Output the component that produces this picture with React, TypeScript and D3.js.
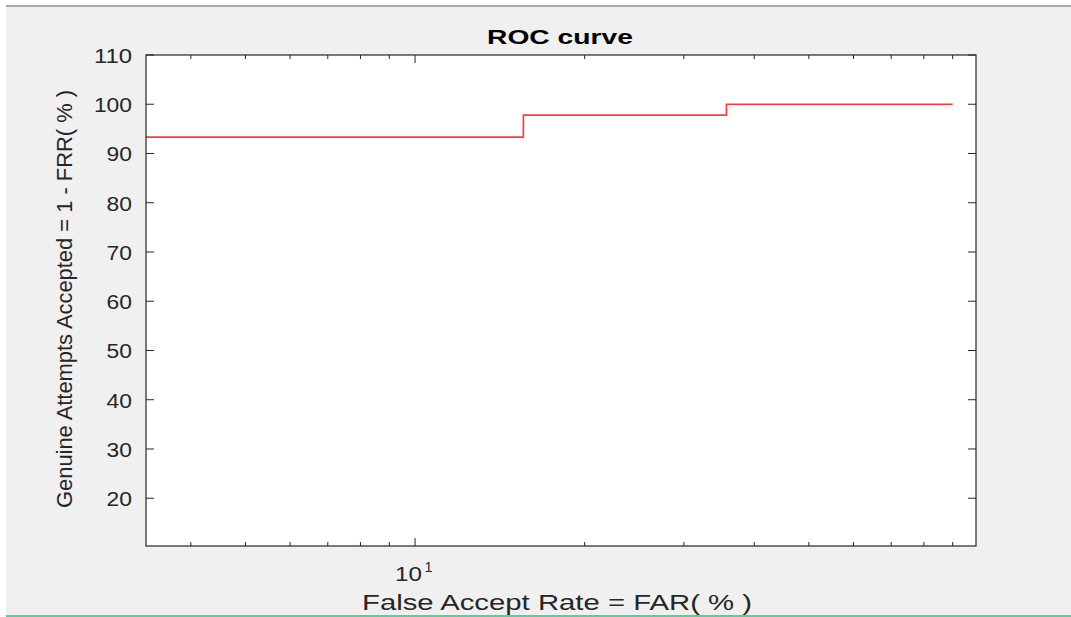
import React from "react";
import * as d3 from "d3";

const FAR = [3.33, 15.57, 35.7, 90];
const GAR = [93.33, 97.78, 100, 100];
const yTickValues = [20, 30, 40, 50, 60, 70, 80, 90, 100, 110];
const xMajorTicks = [10];
const xMinorTicks = [4, 5, 6, 7, 8, 9, 20, 30, 40, 50, 60, 70, 80, 90];
const titleText = "ROC curve";
const xLabelText = "False Accept Rate = FAR( % )";
const yLabelText = "Genuine Attempts Accepted = 1 - FRR( % )";

const W = 1071;
const H = 617;
const left = 146;
const right = 976;
const top = 55;
const bottom = 546;

export default function App() {
  const x = d3.scaleLog().domain([3.33, 99]).range([left, right]);
  const y = d3.scaleLinear().domain([10.3, 110]).range([bottom, top]);
  const pts: [number, number][] = FAR.map((f, i) => [f, GAR[i]]);
  const line = d3
    .line<[number, number]>()
    .x((d) => x(d[0]))
    .y((d) => y(d[1]))
    .curve(d3.curveStepAfter);
  const textColor = "#262626";
  const font = "'Liberation Sans', Arial, sans-serif";
  const majorLen = 8;
  const minorLen = 4;

  return (
    <svg
      width={W}
      height={H}
      style={{ position: "absolute", left: 0, top: 0, background: "#ffffff" }}
      fontFamily={font}
    >
      <rect x={6} y={5} width={W - 6} height={H - 5} fill="#f0f0f0" />
      <line x1={6} x2={W} y1={6} y2={6} stroke="#a9a9a9" strokeWidth={2} />
      <line x1={6} x2={W} y1={616} y2={616} stroke="#45d89c" strokeWidth={2} />

      <rect x={left} y={top} width={right - left} height={bottom - top} fill="#ffffff" />

      <path d={line(pts) || ""} fill="none" stroke="#ff3a3a" strokeWidth={1.7} />

      {yTickValues.map((v) => (
        <g key={"y" + v}>
          <line x1={left} x2={left + majorLen} y1={y(v)} y2={y(v)} stroke={textColor} strokeWidth={1} />
          <line x1={right} x2={right - majorLen} y1={y(v)} y2={y(v)} stroke={textColor} strokeWidth={1} />
          <text
            x={132}
            y={y(v) + 8}
            textAnchor="end"
            fontSize={19.5}
            fill={textColor}
            textLength={String(v).length * 12.7}
            lengthAdjust="spacingAndGlyphs"
          >
            {v}
          </text>
        </g>
      ))}

      {xMajorTicks.map((v) => (
        <g key={"xm" + v}>
          <line x1={x(v)} x2={x(v)} y1={bottom} y2={bottom - majorLen} stroke={textColor} strokeWidth={1} />
          <line x1={x(v)} x2={x(v)} y1={top} y2={top + majorLen} stroke={textColor} strokeWidth={1} />
          <text
            x={x(v) - 20}
            y={580.5}
            fontSize={19.5}
            fill={textColor}
            textLength={27}
            lengthAdjust="spacingAndGlyphs"
          >
            {String(v)}
          </text>
          <text x={x(v) + 9.5} y={572} fontSize={14.5} fill={textColor}>
            {String(Math.round(Math.log10(v)))}
          </text>
        </g>
      ))}

      {xMinorTicks.map((v) => (
        <g key={"xn" + v}>
          <line x1={x(v)} x2={x(v)} y1={bottom} y2={bottom - minorLen} stroke={textColor} strokeWidth={1} />
          <line x1={x(v)} x2={x(v)} y1={top} y2={top + minorLen} stroke={textColor} strokeWidth={1} />
        </g>
      ))}

      <rect
        x={left}
        y={top}
        width={right - left}
        height={bottom - top}
        fill="none"
        stroke={textColor}
        strokeWidth={1.2}
      />

      <text
        x={487}
        y={44}
        fontSize={20}
        fontWeight="bold"
        fill="#000000"
        textLength={146}
        lengthAdjust="spacingAndGlyphs"
      >
        {titleText}
      </text>

      <text
        x={362}
        y={610}
        fontSize={22}
        fill={textColor}
        textLength={390}
        lengthAdjust="spacingAndGlyphs"
      >
        {xLabelText}
      </text>

      <text
        transform={`translate(71.5, 508) rotate(-90)`}
        x={0}
        y={0}
        fontSize={22.5}
        fill={textColor}
        textLength={418}
        lengthAdjust="spacingAndGlyphs"
      >
        {yLabelText}
      </text>
    </svg>
  );
}
